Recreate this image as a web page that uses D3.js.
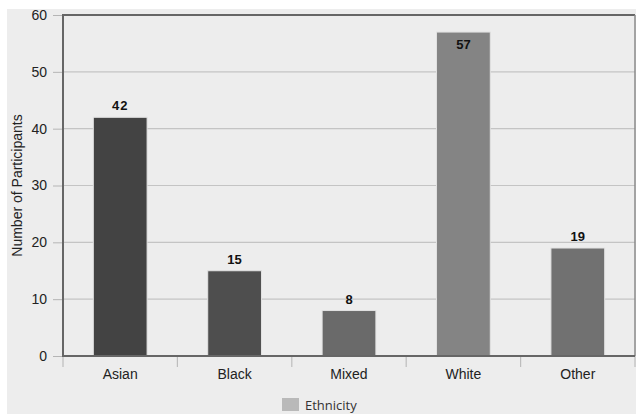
<!DOCTYPE html>
<html>
<head>
<meta charset="utf-8">
<script src="https://cdn.jsdelivr.net/npm/d3@7"></script>
<style>
  html, body { margin: 0; padding: 0; background: #ffffff; }
  svg { display: block; font-family: "Liberation Sans", Arial, Helvetica, sans-serif; }
</style>
</head>
<body>
<svg id="chart" width="636" height="414"></svg>
<script>
// Participants by ethnicity
const categories = ["Asian", "Black", "Mixed", "White", "Other"];
const counts = [42, 15, 8, 57, 19];
const barColors = ["#434343", "#4e4e4e", "#6a6a6a", "#848484", "#717171"];
const yTicks = [0, 10, 20, 30, 40, 50, 60];
const seriesName = "Ethnicity";
const yTitle = "Number of Participants";

const svg = d3.select("#chart");
const W = 636, H = 414;
const m = { left: 63, right: 1, top: 15, bottom: 58 };

// panel background
svg.append("rect").attr("x", 7).attr("y", 9).attr("width", W - 7).attr("height", H - 9)
  .attr("fill", "#ededed");

const x = d3.scaleBand().domain(categories)
  .range([m.left, W - m.right]).paddingInner(0.53).paddingOuter(0.265);
const xEdges = d3.scaleLinear().domain([0, categories.length]).range([m.left, W - m.right]);
const y = d3.scaleLinear().domain([0, 60]).range([H - m.bottom, m.top]);

// gridlines
svg.append("g").selectAll("line").data(yTicks.slice(1)).join("line")
  .attr("x1", m.left).attr("x2", W - m.right)
  .attr("y1", d => y(d)).attr("y2", d => y(d))
  .attr("stroke", "#c4c4c4").attr("stroke-width", 1.2);

// y tick marks and labels
const yAxis = d3.axisLeft(y).tickValues(yTicks).tickSize(10).tickPadding(6);
const gy = svg.append("g").attr("transform", `translate(${m.left},0)`).call(yAxis);
gy.select(".domain").remove();
gy.selectAll(".tick line").attr("stroke", "#b5b5b5");
gy.selectAll(".tick text").attr("fill", "#222").attr("font-size", 14)
  .attr("font-family", "'Liberation Sans', Arial, sans-serif");

// x tick marks at category boundaries
svg.append("g").selectAll("line").data(d3.range(categories.length + 1)).join("line")
  .attr("x1", d => xEdges(d)).attr("x2", d => xEdges(d))
  .attr("y1", y(0)).attr("y2", y(0) + 11)
  .attr("stroke", "#bdbdbd").attr("stroke-width", 1.2);

// bars
svg.append("g").selectAll("rect").data(categories).join("rect")
  .attr("x", d => x(d)).attr("width", x.bandwidth())
  .attr("y", (d, i) => y(counts[i]))
  .attr("height", (d, i) => y(0) - y(counts[i]))
  .attr("fill", (d, i) => barColors[i])
  .attr("stroke", "#e2e2e2").attr("stroke-width", 1);

// plot frame
svg.append("line").attr("x1", m.left).attr("x2", W - m.right)
  .attr("y1", m.top).attr("y2", m.top).attr("stroke", "#666").attr("stroke-width", 2);
svg.append("line").attr("x1", W - m.right).attr("x2", W - m.right)
  .attr("y1", m.top).attr("y2", y(0)).attr("stroke", "#8a8a8a").attr("stroke-width", 1.5);
svg.append("line").attr("x1", m.left).attr("x2", m.left)
  .attr("y1", m.top - 1).attr("y2", y(0) + 1).attr("stroke", "#666").attr("stroke-width", 2);
svg.append("line").attr("x1", m.left).attr("x2", W - m.right)
  .attr("y1", y(0)).attr("y2", y(0)).attr("stroke", "#666").attr("stroke-width", 2);

// value labels: above the bar, or inside when the bar reaches the top
svg.append("g").selectAll("text").data(categories).join("text")
  .attr("x", d => x(d) + x.bandwidth() / 2)
  .attr("y", (d, i) => counts[i] > 54 ? y(counts[i]) + 17 : y(counts[i]) - 7)
  .attr("text-anchor", "middle")
  .attr("font-size", 13).attr("font-weight", "bold").attr("fill", "#111")
  .attr("letter-spacing", (d, i) => counts[i] === 42 ? 1 : 0)
  .text((d, i) => counts[i]);

// category labels
svg.append("g").selectAll("text").data(categories).join("text")
  .attr("x", d => x(d) + x.bandwidth() / 2)
  .attr("y", y(0) + 23)
  .attr("text-anchor", "middle").attr("font-size", 14).attr("fill", "#222")
  .text(d => d);

// y axis title
svg.append("text")
  .attr("transform", `translate(22,${(m.top + y(0)) / 2}) rotate(-90)`)
  .attr("text-anchor", "middle").attr("font-size", 14).attr("fill", "#222")
  .text(yTitle);

// legend, kept fully inside the bottom edge
const lg = svg.append("g").attr("transform", "translate(282,398)");
lg.append("rect").attr("width", 17).attr("height", 13).attr("fill", "#b9b9b9");
lg.append("text").attr("x", 23).attr("y", 11.5).attr("font-size", 13).attr("fill", "#333")
  .attr("font-family", "'Open Sans', 'DejaVu Sans', sans-serif")
  .text(seriesName);
</script>
</body>
</html>
